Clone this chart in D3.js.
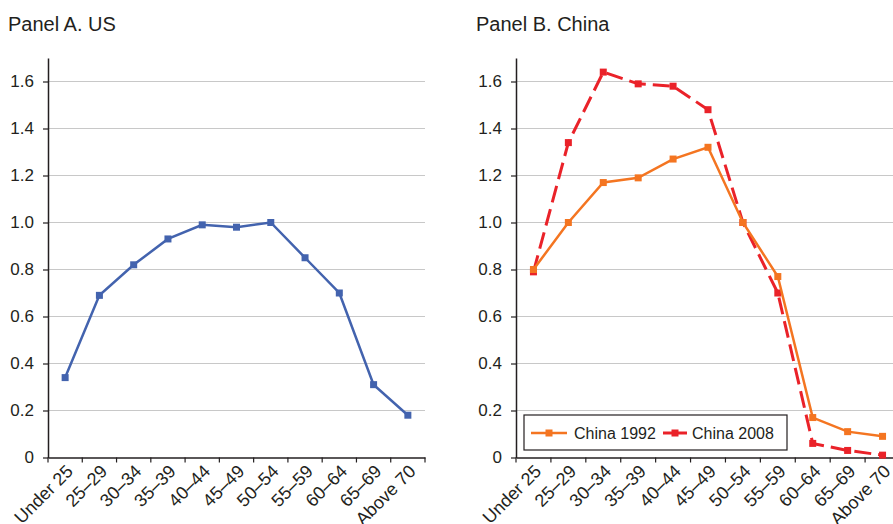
<!DOCTYPE html>
<html>
<head>
<meta charset="utf-8">
<script src="https://cdn.jsdelivr.net/npm/d3@7"></script>
<style>
  body { margin: 0; background: #fff; }
  svg text { font-family: "Liberation Sans", Arial, sans-serif; fill: #231f20; }
</style>
</head>
<body>
<svg id="chart" width="893" height="524"></svg>
<script>
var ages = ["Under 25", "25\u201329", "30\u201334", "35\u201339", "40\u201344", "45\u201349",
            "50\u201354", "55\u201359", "60\u201364", "65\u201369", "Above 70"];
var us = [0.34, 0.69, 0.82, 0.93, 0.99, 0.98, 1.00, 0.85, 0.70, 0.31, 0.18];
var china1992 = [0.80, 1.00, 1.17, 1.19, 1.27, 1.32, 1.00, 0.77, 0.17, 0.11, 0.09];
var china2008 = [0.79, 1.34, 1.64, 1.59, 1.58, 1.48, 1.00, 0.70, 0.06, 0.03, 0.01];
var yTicks = [0, 0.2, 0.4, 0.6, 0.8, 1.0, 1.2, 1.4, 1.6];

var svg = d3.select("#chart");

function draw_panel(title, titleX, x0, x1, series) {
  var x = d3.scaleBand().domain(ages).range([x0, x1]);
  var y = d3.scaleLinear().domain([0, 1.7]).range([457.5, 58]);
  var g = svg.append("g");

  g.append("text")
    .attr("x", titleX).attr("y", 31)
    .style("font-size", "20px")
    .text(title);

  // gridlines
  g.selectAll(".grid")
    .data(yTicks.slice(1))
    .enter()
    .append("line")
    .attr("x1", x0).attr("x2", x1)
    .attr("y1", function(d) { return y(d); })
    .attr("y2", function(d) { return y(d); })
    .attr("stroke", "#c8c8c8")
    .attr("stroke-width", 1.2);

  var yAxis = g.append("g")
    .attr("transform", "translate(" + x0 + ",0)")
    .call(d3.axisLeft(y).tickValues(yTicks).tickSizeInner(5).tickSizeOuter(0).tickPadding(9)
      .tickFormat(function(d) { return d === 0 ? "0" : d3.format(".1f")(d); }));
  yAxis.select(".domain").attr("stroke", "#231f20").attr("stroke-width", 1.5);
  yAxis.selectAll(".tick line").attr("stroke", "#231f20").attr("stroke-width", 1.2);
  yAxis.selectAll("text").style("font-size", "17px").attr("fill", "#231f20");

  var xAxis = g.append("g")
    .attr("transform", "translate(0," + y(0) + ")")
    .call(d3.axisBottom(x).tickSize(0).tickFormat(""));
  xAxis.select(".domain").attr("stroke", "#231f20").attr("stroke-width", 1.5);

  // boundary ticks between categories
  g.selectAll(".xtick")
    .data(d3.range(ages.length + 1))
    .enter()
    .append("line")
    .attr("x1", function(i) { return x0 + i * x.bandwidth(); })
    .attr("x2", function(i) { return x0 + i * x.bandwidth(); })
    .attr("y1", y(0)).attr("y2", y(0) + 5)
    .attr("stroke", "#231f20").attr("stroke-width", 1.2);

  g.selectAll(".xlabel")
    .data(ages)
    .enter()
    .append("text")
    .attr("transform", function(d) {
      return "translate(" + (x(d) + x.bandwidth() / 2 + 9) + "," + (y(0) + 15) + ") rotate(-45)";
    })
    .attr("text-anchor", "end")
    .style("font-size", "18px")
    .text(function(d) { return d; });

  series.forEach(function(s) {
    var line = d3.line()
      .x(function(d, i) { return x(ages[i]) + x.bandwidth() / 2; })
      .y(function(d) { return y(d); });
    g.append("path")
      .datum(s.values)
      .attr("fill", "none")
      .attr("stroke", s.color)
      .attr("stroke-width", s.width)
      .attr("stroke-dasharray", s.dash)
      .attr("d", line);
    g.selectAll(null)
      .data(s.values)
      .enter()
      .append("rect")
      .attr("x", function(d, i) { return x(ages[i]) + x.bandwidth() / 2 - 3.5; })
      .attr("y", function(d) { return y(d) - 3.5; })
      .attr("width", 7).attr("height", 7)
      .attr("fill", s.color);
  });
  return { x: x, y: y };
}

draw_panel("Panel A. US", 8, 48, 425, [
  { values: us, color: "#4363ae", width: 2.5, dash: null }
]);

draw_panel("Panel B. China", 476, 516, 900, [
  { values: china2008, color: "#ea2229", width: 3, dash: "17,7" },
  { values: china1992, color: "#f47521", width: 2.5, dash: null }
]);

// legend
var leg = svg.append("g");
leg.append("rect")
  .attr("x", 524).attr("y", 415).attr("width", 263).attr("height", 35)
  .attr("fill", "#fff").attr("stroke", "#231f20").attr("stroke-width", 1.2);
var legItems = [
  { label: "China 1992", color: "#f47521", lx: 531, lw: 36, tx: 574, width: 2.5 },
  { label: "China 2008", color: "#ea2229", lx: 663, lw: 24, tx: 692, width: 3 }
];
legItems.forEach(function(d) {
  leg.append("line")
    .attr("x1", d.lx).attr("x2", d.lx + d.lw)
    .attr("y1", 433).attr("y2", 433)
    .attr("stroke", d.color).attr("stroke-width", d.width);
  leg.append("rect")
    .attr("x", d.lx + d.lw / 2 - 3.5).attr("y", 429.5)
    .attr("width", 7).attr("height", 7)
    .attr("fill", d.color);
  leg.append("text")
    .attr("x", d.tx).attr("y", 439)
    .style("font-size", "16px")
    .text(d.label);
});
</script>
</body>
</html>
